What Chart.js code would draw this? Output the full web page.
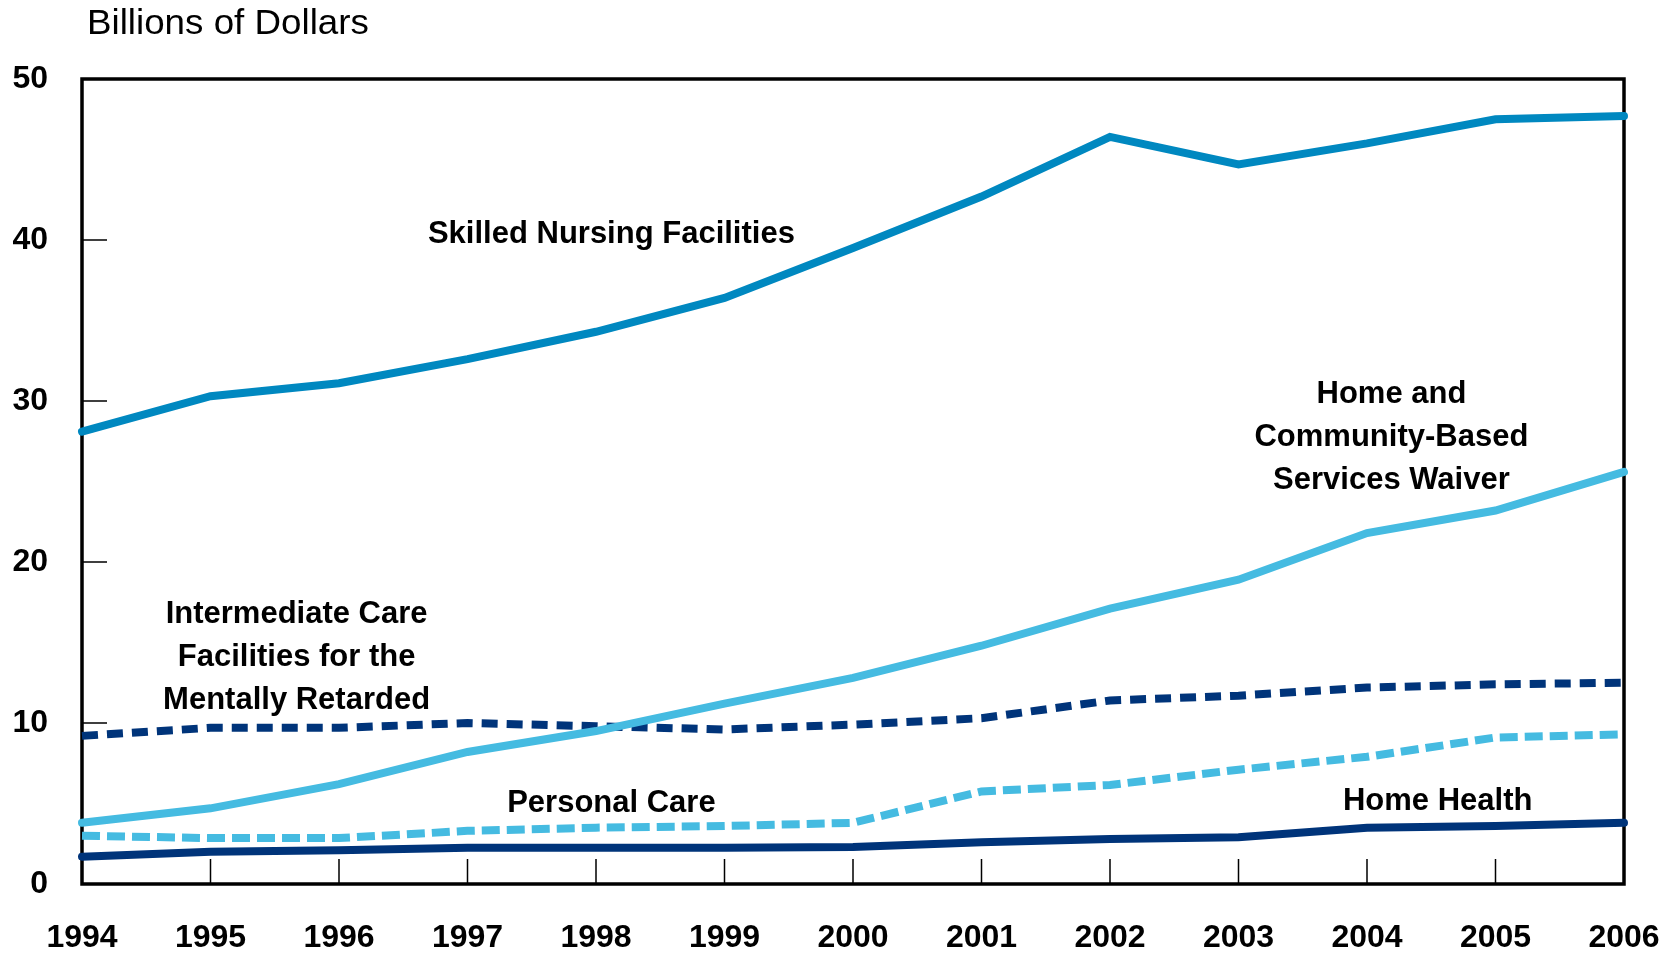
<html>
    <head>
        <script src="https://cdn.jsdelivr.net/npm/chart.js"></script>
        <style>
            body { margin: 0; background: #ffffff; }
            canvas { display: block; }
        </style>
    </head>
    <body>
        <canvas id="spendingChart" width="1674" height="954"></canvas>
    </body>
    <script>
        // values, billions of dollars
        const years = ["1994", "1995", "1996", "1997", "1998", "1999", "2000", "2001", "2002", "2003", "2004", "2005", "2006"];
        const skilledNursing = [28.1, 30.3, 31.1, 32.6, 34.3, 36.4, 39.5, 42.7, 46.4, 44.7, 46.0, 47.5, 47.7];
        const hcbsWaiver = [3.8, 4.7, 6.2, 8.2, 9.5, 11.2, 12.8, 14.8, 17.1, 18.9, 21.8, 23.2, 25.6];
        const icfMr = [9.2, 9.7, 9.7, 10.0, 9.8, 9.6, 9.9, 10.3, 11.4, 11.7, 12.2, 12.4, 12.5];
        const personalCare = [3.0, 2.85, 2.85, 3.3, 3.5, 3.6, 3.8, 5.75, 6.15, 7.1, 7.9, 9.1, 9.3];
        const homeHealth = [1.7, 2.0, 2.1, 2.25, 2.25, 2.25, 2.3, 2.6, 2.8, 2.9, 3.5, 3.6, 3.8];
        const yTicks = [0, 10, 20, 30, 40, 50];

        // series labels placed inside the plot (x = category index, y = value)
        const seriesLabels = [
            { lines: ["Skilled Nursing Facilities"], x: 4.12, y: 40.5 },
            { lines: ["Home and", "Community-Based", "Services Waiver"], x: 10.19, y: 27.9 },
            { lines: ["Intermediate Care", "Facilities for the", "Mentally Retarded"], x: 1.67, y: 14.2 },
            { lines: ["Personal Care"], x: 4.12, y: 5.16 },
            { lines: ["Home Health"], x: 10.55, y: 5.28 }
        ];

        const navy = "#00347a";
        const midBlue = "#0088c0";
        const lightBlue = "#45bbe1";

        // black box round the plot plus the short inward ticks
        const framePlugin = {
            id: 'frame',
            beforeDatasetsDraw(chart) {
                const ctx = chart.ctx;
                const area = chart.chartArea;
                const xScale = chart.scales.x;
                const yScale = chart.scales.y;
                ctx.save();
                ctx.strokeStyle = "#000000";
                ctx.lineWidth = 1.5;
                ctx.beginPath();
                yScale.ticks.forEach((t, i) => {
                    if (t.value <= yScale.min || t.value >= yScale.max) return;
                    const py = yScale.getPixelForTick(i);
                    ctx.moveTo(area.left, py);
                    ctx.lineTo(area.left + 25, py);
                });
                for (let i = 1; i < years.length - 1; i++) {
                    const px = xScale.getPixelForTick(i);
                    ctx.moveTo(px, area.bottom);
                    ctx.lineTo(px, area.bottom - 25);
                }
                ctx.stroke();
                ctx.lineWidth = 3.5;
                ctx.strokeRect(area.left, area.top, area.right - area.left, area.bottom - area.top);
                ctx.restore();
            }
        };

        const textPlugin = {
            id: 'texts',
            afterDatasetsDraw(chart) {
                const ctx = chart.ctx;
                const xScale = chart.scales.x;
                const yScale = chart.scales.y;
                ctx.save();
                ctx.fillStyle = "#000000";
                ctx.font = "bold 31px 'Liberation Sans', Arial, sans-serif";
                ctx.textAlign = "center";
                ctx.textBaseline = "alphabetic";
                const lineGap = 43;
                seriesLabels.forEach(lbl => {
                    const cx = xScale.getPixelForValue(lbl.x);
                    const cy = yScale.getPixelForValue(lbl.y);
                    const first = cy - (lbl.lines.length - 1) * lineGap / 2;
                    lbl.lines.forEach((line, i) => {
                        ctx.fillText(line, cx, first + i * lineGap + 11);
                    });
                });

                // unit title over the axis
                ctx.font = "35px 'Liberation Sans', Arial, sans-serif";
                ctx.textAlign = "left";
                ctx.translate(87, 34);
                ctx.scale(1.05, 1);
                ctx.fillText("Billions of Dollars", 0, 0);
                ctx.restore();
            }
        };

        function drawChart(){
            const ctx = document.getElementById('spendingChart');
            const common = {
                pointRadius: 0,
                pointHoverRadius: 0,
                borderWidth: 8,
                tension: 0,
                fill: false
            };
            const data = {
                labels: years,
                datasets: [
                    Object.assign({ label: 'Skilled Nursing Facilities', data: skilledNursing, borderColor: midBlue, borderCapStyle: 'round' }, common),
                    Object.assign({ label: 'Home and Community-Based Services Waiver', data: hcbsWaiver, borderColor: lightBlue, borderCapStyle: 'round' }, common),
                    Object.assign({ label: 'Intermediate Care Facilities for the Mentally Retarded', data: icfMr, borderColor: navy, borderDash: [16, 9] }, common),
                    Object.assign({ label: 'Personal Care', data: personalCare, borderColor: lightBlue, borderDash: [18, 7] }, common),
                    Object.assign({ label: 'Home Health', data: homeHealth, borderColor: navy, borderCapStyle: 'round' }, common)
                ]
            };

            const yFont = { family: "'Liberation Sans', Arial, sans-serif", size: 32, weight: 'bold' };
            // tall line height pushes the year labels down without adding side padding
            const xFont = { family: "'Liberation Sans', Arial, sans-serif", size: 32, weight: 'bold', lineHeight: 3.4 };

            const config = {
                type: 'line',
                data: data,
                options: {
                    responsive: false,
                    animation: false,
                    clip: false,
                    layout: {
                        padding: { top: 79, right: 50, bottom: 0, left: 0 }
                    },
                    scales: {
                        x: {
                            offset: false,
                            grid: { display: false, drawTicks: false },
                            border: { display: false },
                            ticks: {
                                color: "#000000",
                                font: xFont,
                                padding: 0,
                                maxRotation: 0,
                                autoSkip: false
                            },
                            afterFit(scale) { scale.height = 70; }
                        },
                        y: {
                            min: 0,
                            max: 50,
                            grid: { display: false, drawTicks: false },
                            border: { display: false },
                            afterBuildTicks(scale) {
                                scale.ticks = yTicks.map(v => ({ value: v }));
                            },
                            ticks: {
                                color: "#000000",
                                font: yFont,
                                padding: 34
                            },
                            afterFit(scale) { scale.width = 82; }
                        }
                    },
                    plugins: {
                        legend: { display: false },
                        tooltip: { enabled: false }
                    }
                },
                plugins: [framePlugin, textPlugin]
            };

            new Chart(ctx, config);
        }
        drawChart();
    </script>
</html>
